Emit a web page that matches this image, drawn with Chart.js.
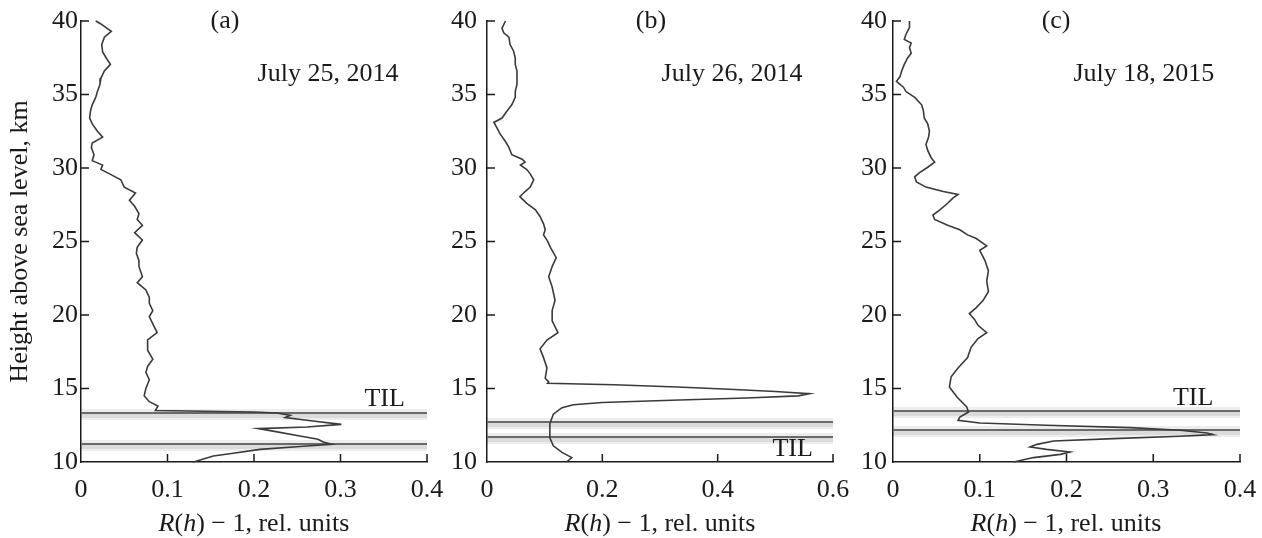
<!DOCTYPE html>
<html>
<head>
<meta charset="utf-8">
<script src="https://cdn.jsdelivr.net/npm/chart.js@4.4.1/dist/chart.umd.min.js"></script>
<style>
  body{margin:0;background:#fff;width:1262px;height:538px;overflow:hidden;position:relative;font-family:"Liberation Serif","Times New Roman",serif;color:#1a1a1a}
  .panel{position:absolute;top:-10px}
  .xtitle{position:absolute;top:506px;width:346px;text-align:center;font-size:26px;line-height:34px;white-space:nowrap}
</style>
</head>
<body>
<div class="panel" style="left:0"><canvas id="ca" width="467" height="548"></canvas></div>
<div class="panel" style="left:440px"><canvas id="cb" width="433" height="548"></canvas></div>
<div class="panel" style="left:850px"><canvas id="cc" width="430" height="548"></canvas></div>
<div class="xtitle" style="left:81px"><i>R</i>(<i>h</i>) − 1, rel. units</div>
<div class="xtitle" style="left:487px"><i>R</i>(<i>h</i>) − 1, rel. units</div>
<div class="xtitle" style="left:893px"><i>R</i>(<i>h</i>) − 1, rel. units</div>
<script>
// lidar scattering ratio profiles (height km, R(h)-1)
const heightsA = [40.0,39.8,39.3,38.9,38.4,37.9,37.5,37.05,36.6,36.1,35.7,35.2,34.8,34.3,33.9,33.4,33.0,32.5,32.1,31.7,31.4,30.9,30.5,30.2,29.9,29.6,29.2,28.7,28.3,27.8,27.4,26.9,26.5,26.1,25.6,25.1,24.6,24.2,23.7,23.3,22.6,22.2,21.7,21.2,20.8,20.3,19.9,19.4,18.8,18.3,17.6,17.0,16.5,16.1,15.6,15.0,14.5,14.1,13.8,13.5,13.4,13.33,13.18,13.02,12.79,12.56,12.38,12.27,12.1,11.77,11.55,11.36,11.2,11.05,10.86,10.59,10.41,10.0];
const valuesA  = [0.017,0.023,0.035,0.027,0.024,0.025,0.029,0.034,0.027,0.023,0.022,0.019,0.017,0.013,0.011,0.010,0.013,0.019,0.025,0.013,0.012,0.015,0.013,0.025,0.023,0.033,0.046,0.050,0.063,0.056,0.062,0.067,0.065,0.071,0.062,0.071,0.065,0.064,0.067,0.067,0.071,0.065,0.075,0.079,0.079,0.083,0.079,0.083,0.088,0.077,0.077,0.083,0.077,0.075,0.079,0.075,0.073,0.079,0.089,0.086,0.20,0.226,0.242,0.236,0.268,0.301,0.261,0.205,0.222,0.253,0.274,0.280,0.290,0.253,0.207,0.176,0.153,0.130];

const heightsB = [40.0,39.5,39.2,38.9,38.4,37.96,37.5,37.05,36.6,36.1,35.7,35.2,34.8,34.3,33.9,33.4,33.1,32.75,32.3,31.8,31.4,30.9,30.6,30.4,30.2,29.9,29.6,29.2,28.7,28.4,28.05,27.6,27.15,26.7,26.2,25.8,25.45,25.1,24.6,23.9,23.3,22.6,21.9,21.0,20.3,19.6,18.8,18.3,17.7,17.1,16.4,15.7,15.45,15.35,15.25,15.1,14.95,14.8,14.65,14.5,14.35,14.2,14.05,13.9,13.7,13.25,12.6,11.65,11.1,10.65,10.3,10.0];
const valuesB  = [0.032,0.026,0.029,0.038,0.040,0.046,0.049,0.049,0.052,0.052,0.052,0.049,0.049,0.043,0.035,0.026,0.012,0.017,0.023,0.032,0.038,0.043,0.061,0.066,0.058,0.069,0.075,0.081,0.075,0.066,0.057,0.069,0.084,0.092,0.098,0.101,0.098,0.104,0.110,0.120,0.113,0.107,0.113,0.118,0.113,0.113,0.123,0.104,0.092,0.098,0.104,0.101,0.107,0.105,0.22,0.33,0.42,0.50,0.559,0.54,0.45,0.32,0.20,0.15,0.13,0.115,0.109,0.109,0.115,0.130,0.147,0.138];

const heightsC = [40.0,39.55,39.1,38.75,38.5,38.2,37.8,37.5,37.05,36.6,36.2,35.9,35.5,35.2,34.8,34.3,33.9,33.4,33.0,32.5,32.1,31.6,31.2,30.7,30.4,30.05,29.7,29.4,29.05,28.7,28.4,28.2,27.95,27.6,27.15,26.8,26.5,26.1,25.8,25.45,25.2,24.7,24.4,23.7,23.0,22.3,21.6,21.0,20.5,20.1,19.7,19.3,18.8,18.4,17.8,17.1,16.4,15.8,15.1,14.4,13.74,13.4,13.06,12.84,12.65,12.5,12.34,12.16,11.97,11.86,11.75,11.59,11.43,11.2,11.02,10.86,10.68,10.52,10.3,10.0];
const valuesC  = [0.019,0.019,0.015,0.013,0.021,0.019,0.021,0.017,0.013,0.010,0.008,0.004,0.012,0.015,0.025,0.033,0.035,0.036,0.040,0.042,0.041,0.038,0.040,0.044,0.048,0.040,0.031,0.025,0.027,0.038,0.058,0.075,0.069,0.063,0.054,0.046,0.048,0.063,0.077,0.086,0.096,0.108,0.100,0.106,0.110,0.108,0.110,0.104,0.096,0.088,0.094,0.098,0.108,0.098,0.090,0.086,0.075,0.067,0.065,0.074,0.085,0.087,0.077,0.075,0.100,0.177,0.273,0.331,0.362,0.369,0.331,0.254,0.185,0.166,0.158,0.177,0.204,0.193,0.162,0.139];

// tropopause inversion layer heights, km
const tilA = [13.3, 11.2];
const tilB = [12.75, 11.7];
const tilC = [13.5, 12.15];

const yTicks  = [10, 15, 20, 25, 30, 35, 40];
const xTicksA = [0, 0.1, 0.2, 0.3, 0.4];
const xTicksB = [0, 0.2, 0.4, 0.6];
const xTicksC = [0, 0.1, 0.2, 0.3, 0.4];

const panelLabels = ['(a)', '(b)', '(c)'];
const dateLabels  = ['July 25, 2014', 'July 26, 2014', 'July 18, 2015'];
const yTitle = 'Height above sea level, km';

const FONT = '"Liberation Serif", "Times New Roman", serif';
const INK = '#1a1a1a';
const TICK_LEN = 8;
const PAD_TOP = 31;   // canvas sits 10px above the page top -> plot top at 21
const PAD_R = 40;

const PANELS = [
  { el:'ca', h:heightsA, v:valuesA, til:tilA, xt:xTicksA, yw:81, labPad:3,  showTitle:true,
    label:panelLabels[0], date:dateLabels[0], labelFx:0.416, dateFx:0.714, tilX:0.351, tilY:14.3 },
  { el:'cb', h:heightsB, v:valuesB, til:tilB, xt:xTicksB, yw:47, labPad:10, showTitle:false,
    label:panelLabels[1], date:dateLabels[1], labelFx:0.474, dateFx:0.708, tilX:0.53, tilY:10.85 },
  { el:'cc', h:heightsC, v:valuesC, til:tilC, xt:xTicksC, yw:43, labPad:6,  showTitle:false,
    label:panelLabels[2], date:dateLabels[2], labelFx:0.470, dateFx:0.723, tilX:0.346, tilY:14.35 }
];

const decor = {
  id:'decor',
  beforeDatasetsDraw(chart, args, o){
    const {ctx, chartArea:a, scales:{y}} = chart;
    ctx.save();
    o.til.forEach(hkm => {
      const py = Math.round(y.getPixelForValue(hkm));
      ctx.fillStyle = 'rgba(0,0,0,0.07)';
      ctx.fillRect(a.left, py - 4, a.right - a.left, 11);
      ctx.fillStyle = 'rgba(0,0,0,0.08)';
      ctx.fillRect(a.left, py + 1, a.right - a.left, 4);
      ctx.strokeStyle = '#6a6a6a';
      ctx.lineWidth = 2.2;
      ctx.beginPath(); ctx.moveTo(a.left, py); ctx.lineTo(a.right, py); ctx.stroke();
    });
    ctx.restore();
  },
  afterDraw(chart, args, o){
    const {ctx, chartArea:a, scales:{x, y}} = chart;
    ctx.save();
    ctx.strokeStyle = INK; ctx.lineWidth = 1.5;
    ctx.beginPath();
    x.ticks.slice(1).forEach(t => {
      const px = x.getPixelForValue(t.value);
      ctx.moveTo(px, a.bottom); ctx.lineTo(px, a.bottom - TICK_LEN);
    });
    y.ticks.slice(1).forEach(t => {
      const py = y.getPixelForValue(t.value);
      ctx.moveTo(a.left, py); ctx.lineTo(a.left + TICK_LEN, py);
    });
    ctx.stroke();
    ctx.fillStyle = INK;
    ctx.font = '26px ' + FONT;
    ctx.textAlign = 'center'; ctx.textBaseline = 'middle';
    ctx.fillText(o.label, a.left + o.labelFx * a.width, a.top);
    ctx.fillText(o.date, a.left + o.dateFx * a.width, y.getPixelForValue(36.4));
    ctx.fillText('TIL', x.getPixelForValue(o.tilX), y.getPixelForValue(o.tilY));
    ctx.restore();
  }
};

PANELS.forEach(p => {
  const pts = p.h.map((hk, i) => ({ x:p.v[i], y:hk }));
  new Chart(document.getElementById(p.el), {
    type:'scatter',
    data:{ datasets:[{
      data:pts, showLine:true, borderColor:'#3a3a3a', borderWidth:1.6,
      pointRadius:0, tension:0, clip:4
    }]},
    plugins:[decor],
    options:{
      responsive:false, animation:false, devicePixelRatio:1,
      layout:{ padding:{ top:PAD_TOP, right:PAD_R, left:0, bottom:0 } },
      plugins:{ legend:{display:false}, tooltip:{enabled:false}, decor:p },
      scales:{
        x:{
          type:'linear', min:p.xt[0], max:p.xt[p.xt.length-1],
          afterBuildTicks:s => { s.ticks = p.xt.map(v => ({value:v})); },
          afterFit:s => { s.height = 76; },
          grid:{ display:false, drawTicks:false },
          border:{ display:true, color:INK, width:1.5 },
          ticks:{ color:INK, padding:13, maxRotation:0, font:{ family:FONT, size:26 },
                  callback:v => String(Number(v.toFixed(2))) }
        },
        y:{
          type:'linear', min:10, max:40,
          afterBuildTicks:s => { s.ticks = yTicks.map(v => ({value:v})); },
          afterFit:s => { s.width = p.yw; },
          grid:{ display:false, drawTicks:false },
          border:{ display:true, color:INK, width:1.5 },
          ticks:{ color:INK, padding:p.labPad, font:{ family:FONT, size:26 } },
          title:{ display:p.showTitle, text:yTitle, color:INK,
                  font:{ family:FONT, size:26 }, padding:{ top:5, bottom:0 } }
        }
      }
    }
  });
});
</script>
</body>
</html>
